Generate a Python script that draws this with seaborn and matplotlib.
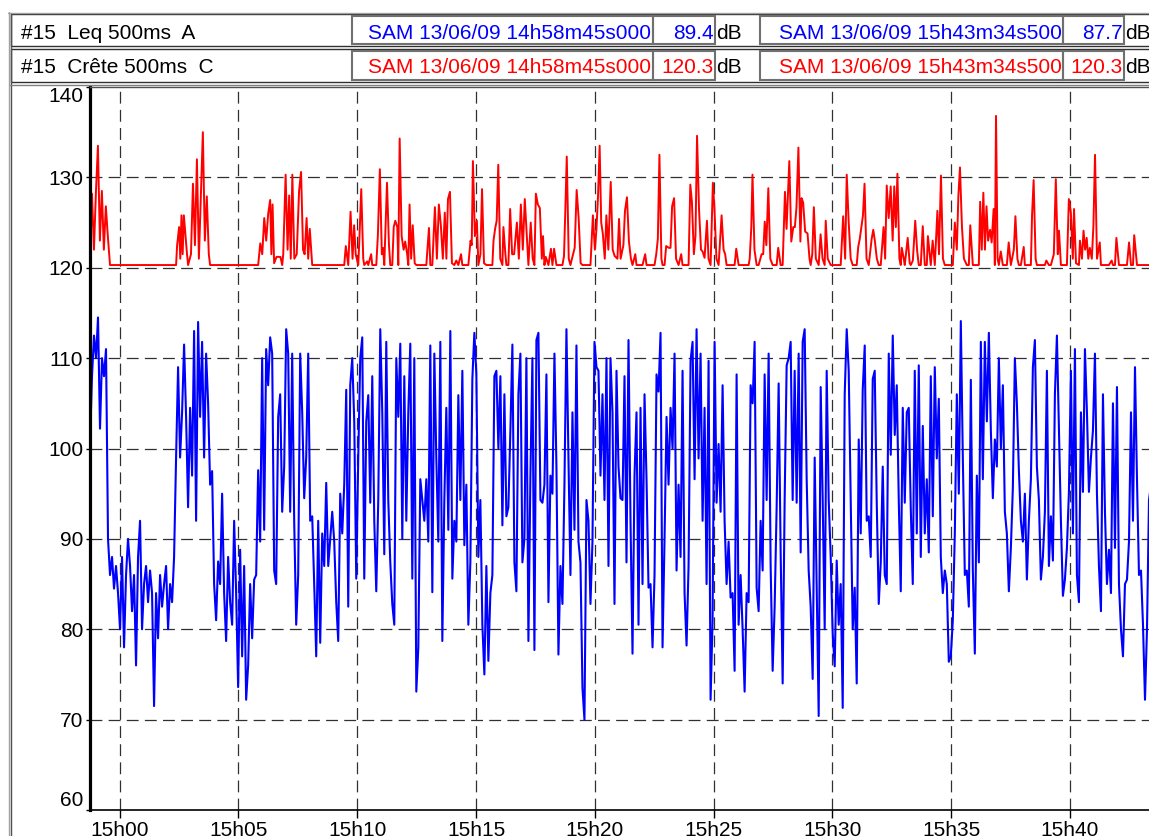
import numpy as np
import pandas as pd
import matplotlib
matplotlib.use("Agg")
import matplotlib.pyplot as plt
import matplotlib.dates as mdates
from matplotlib.lines import Line2D
from matplotlib.patches import Rectangle
import seaborn as sns

# ---------------- data ----------------
start_time = "2009-06-13 14:58:45"
end_time = "2009-06-13 15:43:34.5"

# Leq 500ms A (dB), evenly spaced from start to end
leq_seg1 = [100.5, 108, 112.5, 110, 114.5, 102.2, 110, 108, 111, 90,
            86, 88, 84.5, 87, 84, 80, 88, 78, 86, 90,
            87, 82, 86, 76, 88, 92, 80, 85, 87, 83,
            86.5, 84, 71.5, 84, 79, 86, 82.5, 85, 87, 80,
            85, 83, 88, 99, 109, 99, 104, 111.5, 103.5, 93.5,
            104.5, 97, 113, 92, 114, 103.5, 111.8, 99, 110.5, 105,
            96, 97.5, 85, 81, 87.5, 85, 95]
leq_seg2 = [84, 78.7, 88, 83, 80.5, 92, 84, 73.6, 88.8, 77,
            87, 72.2, 76, 85, 79, 85.5, 86, 97.6, 89.7, 110,
            91, 111, 107, 112.3, 110.5, 86.5, 85, 103.5, 106, 93,
            98, 113.2, 110.5, 93, 110.5, 92, 80.5, 86, 110.5, 104,
            94.5, 99, 110.5, 92, 92.5, 85, 77, 92, 78.5, 90.6,
            87, 96.2, 87, 90, 93, 89.7, 83, 78.7, 95, 90.6,
            96, 106.5, 82.5, 107, 110, 103]
leq_seg3 = [85.6, 99, 110, 112.3, 85.6, 103, 105.9, 94, 108, 92,
            84.2, 94.3, 113.2, 104, 88.3, 111.8, 94.3, 87.4, 82.8, 80.5,
            110, 103.5, 111.6, 90, 108, 92, 104, 111.6, 85.6, 110,
            73.1, 78, 96.6, 94.3, 92, 96.6, 89.7, 111.4, 84.1, 110.5,
            98.9, 89.7, 111.8, 78.7, 94.3, 104.5, 91, 113, 85.6, 92,
            89.7, 105.9, 94.3, 108.6, 89.3, 96, 80.5, 87.4, 107.7, 112.8,
            108.2, 88, 94.3, 80.5, 75, 87]
leq_seg4 = [76.5, 84, 86, 108, 108.6, 100, 108, 91.5, 106, 92.5,
            93.5, 102, 111.5, 87.4, 84.2, 106, 110.5, 87.4, 90, 110,
            78.7, 97, 110, 77.7, 112, 112.8, 94.3, 94, 96, 108.2,
            83, 97, 95, 110.5, 98, 77.2, 87, 82.8, 96, 113.2,
            99, 86, 104, 91, 111.4, 89.7, 87.4, 73.5, 70, 94.3,
            92, 82.8, 89.7, 111.8, 109, 108.6, 97, 106, 94.3, 110,
            87, 110, 104, 82.8, 108.6, 98]
leq_seg5 = [94.5, 94.3, 108, 87.4, 112, 92, 77.3, 97, 104, 80.5,
            104.5, 85, 106, 96.6, 84.6, 85, 78, 86, 108.2, 106.3,
            112.8, 78, 90, 103.5, 96, 104.5, 100, 110.5, 86.5, 96,
            88, 108.6, 84, 78.2, 87, 109.7, 111.8, 96.6, 113.2, 98.9,
            110.5, 92, 104.5, 85, 109.7, 72.2, 81, 111.8, 94, 100.5,
            93, 107, 92, 85, 89.7, 83.5, 84, 75.4, 108.2, 80.5,
            86, 80, 73.1, 84, 83, 107]
leq_seg6 = [105, 111.8, 84.6, 82, 92, 86.5, 108.2, 94.3, 110.5, 87,
            75.4, 82.5, 93.5, 107.2, 88.5, 74, 94.3, 109.2, 110, 111.8,
            94.3, 108.6, 94, 110.5, 88.5, 111.8, 113.2, 96.6, 86.5, 82.5,
            74.5, 99, 85, 70.4, 106.8, 94.3, 80, 108.6, 94.3, 88,
            79.5, 75.9, 87.6, 80.5, 85, 71.3, 106, 113.2, 108.6, 94.3,
            80, 84.6, 74, 101, 90.6, 106.5, 111.4, 92, 92.5, 88,
            107.7, 108.6, 94, 82.8, 87.4, 98]
leq_seg7 = [86, 85, 110.5, 99.3, 112.5, 101.5, 107, 94.3, 84.2, 104.5,
            94, 104, 104.5, 93.4, 85, 108.6, 90.6, 109.2, 88, 102.5,
            90.6, 96.6, 88.5, 108, 92.5, 109, 98.9, 105.5, 88, 84,
            86.5, 85, 76.4, 77, 81, 90.6, 106, 95, 114.1, 99,
            86, 86.5, 82.5, 107.6, 86.5, 77.3, 97, 87.4, 111.8, 96.6,
            111.8, 103, 112.8, 102, 94.5, 101, 98, 110, 100, 107,
            93, 90.6, 84.2, 89, 95.7, 110]
leq_seg8 = [105, 97.6, 92, 89.7, 95, 85.5, 92, 96.6, 109, 112,
            98, 94.3, 85.5, 88, 93, 108.6, 87, 92.5, 87.6, 106,
            112.5, 102, 92, 83.7, 85.5, 89, 95.2, 108.6, 90.6, 111,
            86, 83, 104, 95.2, 111, 104, 95.2, 99, 102, 110.5,
            95, 87, 82, 106, 93, 85, 88.8, 84, 105, 89,
            106.8, 85, 80, 77, 85, 85.5, 89.7, 104, 92, 109,
            96.6, 86, 86.5, 80.5, 72.2, 80, 94.3, 96, 88, 87.7]

# Crête 500ms C: floor level and peaks as (seconds after start, dB)
crete_floor = 120.3
crete_burst_1 = [(5, 128.2), (10, 122), (15, 128.4), (20, 133.5), (25, 123), (30, 128.5),
                 (35, 122), (40, 126.8), (45, 123.5),
                 (220, 122.5), (225, 124.5), (228, 121), (231, 125.8), (234, 121.5), (237, 125.8),
                 (240, 124.2), (245, 121.5), (255, 121.5), (260, 129.3), (265, 122.5), (270, 132),
                 (275, 121), (280, 128), (285, 135), (290, 123), (295, 127.9), (300, 121.5)]
crete_burst_2 = [(430, 122.7), (435, 121.5), (440, 125.5), (445, 123), (450, 126), (455, 127.5),
                 (458, 121.5), (461, 127), (465, 120.5), (471, 121.2), (476, 121.2), (481, 121.2),
                 (488, 121.5), (494, 130.3), (499, 122), (503, 128), (507, 121), (511, 130.3),
                 (516, 121), (522, 121.5), (528, 128.5), (533, 130.6), (538, 122), (542, 121.5),
                 (547, 125.5), (551, 121), (555, 124.3), (646, 122.4), (658, 126.2), (663, 121)]
crete_burst_3 = [(667, 124.7), (671, 121.5), (680, 122.9), (685, 128.7), (690, 121), (700, 120.7),
                 (710, 121.5), (727, 123.6), (732, 130.9), (737, 121.5), (740, 122.2), (750, 129.4),
                 (755, 122.5), (767, 124.5), (771, 125.2), (776, 124.5), (782, 134.3), (787, 123.5),
                 (792, 122), (796, 122.9), (801, 121.5), (807, 127), (811, 121), (815, 124.7),
                 (820, 120.5), (856, 124.4), (871, 126.7), (876, 121), (881, 127), (886, 124.7),
                 (891, 121), (896, 126.1), (900, 121), (904, 127.6), (909, 128.4), (914, 120.5),
                 (925, 120.8), (937, 121.5), (961, 123), (964, 122.5), (967, 131.8), (972, 123.5),
                 (977, 125.2), (986, 121.5), (990, 128.7), (995, 120.5)]
crete_burst_4 = [(1019, 123), (1023, 124.3), (1027, 125.2), (1031, 131.4), (1036, 121), (1044, 124.5),
                 (1049, 121.5), (1061, 126.5), (1066, 121.5), (1071, 121.5), (1078, 125), (1083, 121),
                 (1088, 127), (1093, 122), (1098, 127.6), (1103, 123.6), (1113, 125), (1118, 121),
                 (1126, 128.2), (1131, 127), (1136, 126.6), (1141, 121), (1144, 123.5), (1151, 121.2),
                 (1164, 122.1), (1172, 122.1), (1197, 121.3), (1200, 125.8), (1204, 132.3), (1209, 121),
                 (1216, 120.8), (1224, 122.2), (1229, 128.6), (1234, 125.5), (1239, 120.5), (1270, 125.8),
                 (1275, 122), (1279, 124.3), (1283, 128), (1287, 133.5), (1291, 125), (1295, 123.8),
                 (1300, 121), (1304, 125.8), (1309, 122), (1315, 129.5), (1320, 122), (1325, 121.3),
                 (1332, 121)]
crete_burst_5 = [(1336, 125.4), (1340, 121), (1347, 122.5), (1351, 126.3), (1356, 127.8), (1361, 122.9),
                 (1366, 121), (1377, 121.5), (1402, 121.5), (1430, 121.5), (1434, 123.2), (1438, 132.5),
                 (1443, 121), (1455, 122.4), (1462, 122.2), (1466, 122.2), (1470, 126.8), (1475, 127.7),
                 (1480, 121), (1493, 121.5), (1516, 129.2), (1520, 127.3), (1525, 121.5), (1529, 123.5),
                 (1533, 134.6), (1538, 126.5), (1543, 122), (1547, 121.8), (1552, 121.1), (1558, 125.2),
                 (1562, 121), (1573, 129.4), (1577, 126.5), (1582, 121), (1590, 122.1), (1595, 125.8),
                 (1600, 122), (1604, 121.5), (1632, 122.1), (1666, 121)]
crete_burst_6 = [(1670, 124.5), (1673, 130.3), (1678, 122), (1696, 121.5), (1700, 121.5), (1704, 125.1),
                 (1708, 122.5), (1713, 128.8), (1718, 121), (1738, 122.2), (1755, 128.4), (1759, 124.3),
                 (1766, 131.8), (1771, 122.9), (1776, 124.5), (1780, 124.5), (1784, 126.6), (1789, 133.3),
                 (1794, 122.9), (1797, 127.7), (1801, 127.2), (1806, 124), (1812, 123.8), (1817, 121),
                 (1824, 121.5), (1828, 126.7), (1833, 121), (1845, 123.7), (1850, 121), (1858, 125.2),
                 (1863, 121), (1902, 125.7), (1907, 121), (1911, 130.3), (1916, 125), (1921, 121),
                 (1940, 122.3), (1944, 123.2), (1948, 124.5), (1952, 125.8), (1956, 129.3), (1961, 121),
                 (1974, 123.2), (1978, 124.2), (1982, 123), (1987, 121)]
crete_burst_7 = [(2004, 124.5), (2008, 121), (2012, 129.1), (2017, 125.5), (2022, 129), (2027, 123),
                 (2031, 129), (2035, 124.5), (2039, 130.4), (2044, 121), (2050, 122.2), (2055, 121),
                 (2065, 123.3), (2070, 120.5), (2078, 120.8), (2084, 125.2), (2089, 121.8), (2103, 124.6),
                 (2116, 123.5), (2128, 123), (2140, 126.3), (2144, 121.5), (2149, 130.2), (2154, 121),
                 (2184, 125), (2189, 122), (2193, 128), (2197, 131.1), (2202, 124.5), (2207, 121),
                 (2223, 124.7), (2248, 127.3), (2252, 122), (2256, 128.3), (2260, 122), (2264, 126.8),
                 (2268, 123), (2273, 124.2), (2277, 122.8), (2282, 126.5), (2288, 136.8), (2292, 121),
                 (2300, 121.8), (2320, 122.8)]
crete_burst_8 = [(2333, 122), (2337, 125.7), (2342, 121), (2358, 122.3), (2379, 125.8), (2383, 129.7),
                 (2388, 121), (2415, 120.8), (2434, 121.5), (2439, 129.8), (2444, 121.5), (2447, 124.1),
                 (2472, 127.6), (2477, 126.1), (2482, 121), (2485, 126.5), (2490, 120.5), (2500, 123),
                 (2505, 121), (2509, 124.1), (2513, 122), (2517, 123.3), (2521, 121), (2525, 122.2),
                 (2530, 121), (2534, 124.7), (2538, 132.5), (2543, 121), (2550, 122.8), (2580, 120.8),
                 (2592, 123.3), (2624, 122.8), (2637, 123.6)]

y_ticks = [60, 70, 80, 90, 100, 110, 120, 130, 140]

header_labels = ["#15  Leq 500ms  A", "#15  Crête 500ms  C"]
header_colors = ["#0000ff", "#ff0000"]
header_start = ["SAM 13/06/09 14h58m45s000", "SAM 13/06/09 14h58m45s000"]
header_start_val = ["89.4", "120.3"]
header_end = ["SAM 13/06/09 15h43m34s500", "SAM 13/06/09 15h43m34s500"]
header_end_val = ["87.7", "120.3"]
header_unit = "dB"

# ---------------- build frames ----------------
leq_values = (leq_seg1 + leq_seg2 + leq_seg3 + leq_seg4 +
              leq_seg5 + leq_seg6 + leq_seg7 + leq_seg8)
t0 = pd.Timestamp(start_time)
leq_times = pd.date_range(t0, pd.Timestamp(end_time), periods=len(leq_values))
df_leq = pd.DataFrame({"time": leq_times, "dB": leq_values})

peaks = (crete_burst_1 + crete_burst_2 + crete_burst_3 + crete_burst_4 +
         crete_burst_5 + crete_burst_6 + crete_burst_7 + crete_burst_8)
peak_s = np.array([p[0] for p in peaks], dtype=float)
peak_db = np.array([p[1] for p in peaks], dtype=float)
grid_s = (leq_times - t0).total_seconds().to_numpy()
keep = np.array([np.min(np.abs(peak_s - g)) > 2.5 for g in grid_s])
crete_s = np.concatenate([grid_s[keep], peak_s])
crete_db = np.concatenate([np.full(keep.sum(), crete_floor), peak_db])
df_crete = pd.DataFrame({"time": t0 + pd.to_timedelta(crete_s, unit="s"), "dB": crete_db})
df_crete = df_crete.sort_values("time").reset_index(drop=True)

# ---------------- figure ----------------
sns.set_style("white")
plt.rcParams["font.family"] = ["Liberation Sans", "DejaVu Sans"]

W, H = 1149, 836
fig = plt.figure(figsize=(W / 100, H / 100), dpi=100)
fig.patch.set_facecolor("white")

def fx(px):
    return px / W

def fy(py):
    return 1 - py / H

ax = fig.add_axes([fx(90), fy(810), fx(1155) - fx(90), fy(87) - fy(810)])

sns.lineplot(data=df_crete, x="time", y="dB", ax=ax, color="#ff0000",
             linewidth=1.4, errorbar=None)
sns.lineplot(data=df_leq, x="time", y="dB", ax=ax, color="#0000ff",
             linewidth=1.5, errorbar=None)

ax.set_xlim(t0, pd.Timestamp(end_time))
ax.set_ylim(60, 140)
ax.set_yticks(y_ticks)
ax.xaxis.set_major_locator(mdates.MinuteLocator(byminute=range(0, 60, 5)))
ax.xaxis.set_major_formatter(mdates.DateFormatter("%Hh%M"))
ax.set_xlabel("")
ax.set_ylabel("")

ax.set_axisbelow(True)
ax.grid(True, color="#303030", linewidth=0.9, linestyle=(0, (9.5, 5)))
ygl = ax.yaxis.get_gridlines()
ygl[0].set_visible(False)
ygl[-1].set_visible(False)

ax.tick_params(axis="y", length=3, width=1, pad=2, labelsize=15, colors="black", left=True)
ax.tick_params(axis="x", length=6, width=1, pad=2, labelsize=15, colors="black", bottom=True)
yt = ax.yaxis.get_major_ticks()
yt[0].label1.set_va("bottom")
yt[-1].label1.set_va("top")

ax.spines["right"].set_visible(False)
ax.spines["left"].set_linewidth(2.3)
ax.spines["left"].set_color("black")
ax.spines["bottom"].set_linewidth(1.2)
ax.spines["bottom"].set_color("black")
ax.spines["top"].set_linewidth(1.0)
ax.spines["top"].set_color("#505050")

# ---------------- header / frame ----------------
tf = fig.transFigure
def hline(y, x0, x1, color, lw=1.0):
    fig.add_artist(Line2D([fx(x0), fx(x1)], [fy(y), fy(y)], transform=tf, color=color, lw=lw))

def vline(x, y0, y1, color, lw=1.0):
    fig.add_artist(Line2D([fx(x), fx(x)], [fy(y0), fy(y1)], transform=tf, color=color, lw=lw))

def box(x0, y0, x1, y1, color, lw=1.0):
    fig.add_artist(Rectangle((fx(x0), fy(y1)), fx(x1) - fx(x0), fy(y0) - fy(y1),
                             transform=tf, fill=False, edgecolor=color, lw=lw))

# outer frame (double line)
hline(12.5, 8, 1160, "#a0a0a0")
vline(8.5, 12, 840, "#a0a0a0")
vline(10.5, 14, 840, "#505050")
hline(85, 10, 1160, "#808080")

rows = [(14, 46, 39), (49, 82, 73)]
for i, (ry0, ry1, base) in enumerate(rows):
    box(11, ry0, 1165, ry1, "#303030", 1.0)
    for cx0, cx1 in [(352, 653), (653, 715), (760, 1063), (1063, 1124)]:
        box(cx0, ry0 + 2, cx1, ry1 - 2, "#707070", 1.5)
    fs = 15
    fig.text(fx(21), fy(base), header_labels[i], fontsize=fs, color="black",
             ha="left", va="baseline")
    fig.text(fx(651), fy(base), header_start[i], fontsize=fs, color=header_colors[i],
             ha="right", va="baseline")
    fig.text(fx(714), fy(base), header_start_val[i], fontsize=fs, color=header_colors[i],
             ha="right", va="baseline")
    fig.text(fx(716), fy(base), header_unit, fontsize=fs, color="black",
             ha="left", va="baseline")
    fig.text(fx(1062), fy(base), header_end[i], fontsize=fs, color=header_colors[i],
             ha="right", va="baseline")
    fig.text(fx(1123), fy(base), header_end_val[i], fontsize=fs, color=header_colors[i],
             ha="right", va="baseline")
    fig.text(fx(1125), fy(base), header_unit, fontsize=fs, color="black",
             ha="left", va="baseline")

fig.savefig("out.png", dpi=100)
